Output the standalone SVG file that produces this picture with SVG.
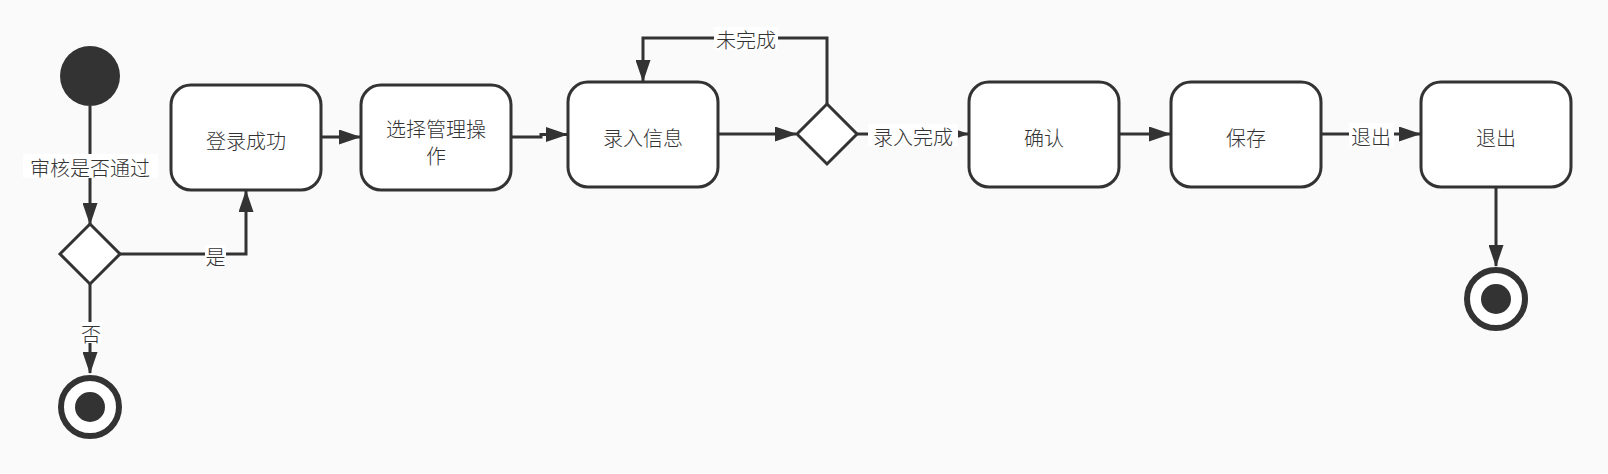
<svg xmlns="http://www.w3.org/2000/svg" width="1608" height="474" viewBox="0 0 1608 474">
<defs>
<style>
.box{fill:#fff;stroke:#333;stroke-width:3}
.dia{fill:#fff;stroke:#333;stroke-width:3}
.edge{fill:none;stroke:#333;stroke-width:3}
.t{font-family:"Noto Sans CJK SC","Noto Sans",sans-serif;font-size:20px;font-weight:300;fill:#333;text-anchor:middle;dominant-baseline:central}
.lbg{fill:#fff}
</style>
<marker id="arr" viewBox="0 0 22 15" refX="21" refY="7.5" markerWidth="22" markerHeight="15" markerUnits="userSpaceOnUse" orient="auto">
<path d="M0,0 L22,7.5 L0,15 Z" fill="#333"/>
</marker>
</defs>
<rect width="1608" height="474" fill="#fafafa"/>
<g id="connectors">
<path class="edge" d="M90,106 V224" marker-end="url(#arr)"/>
<path class="edge" d="M120,254 H246 V191" marker-end="url(#arr)"/>
<path class="edge" d="M90,284 V373" marker-end="url(#arr)"/>
<path class="edge" d="M321,137 H360" marker-end="url(#arr)"/>
<path class="edge" d="M511,137 H541 V134.5 H567" marker-end="url(#arr)"/>
<path class="edge" d="M718,134 H796" marker-end="url(#arr)"/>
<path class="edge" d="M827,104 V38 H643 V81" marker-end="url(#arr)"/>
<path class="edge" d="M857,134 H968" marker-end="url(#arr)"/>
<path class="edge" d="M1119,134 H1170" marker-end="url(#arr)"/>
<path class="edge" d="M1321,134 H1420" marker-end="url(#arr)"/>
<path class="edge" d="M1496,187 V266" marker-end="url(#arr)"/>
<rect class="lbg" x="23" y="154" width="135" height="24"/>
<text class="t" x="90" y="167">审核是否通过</text>
<rect class="lbg" x="205" y="245" width="21" height="21"/>
<text class="t" x="215.5" y="256">是</text>
<rect class="lbg" x="80" y="322" width="22" height="21"/>
<text class="t" x="91" y="333">否</text>
<rect class="lbg" x="714" y="27" width="64" height="23"/>
<text class="t" x="746" y="39">未完成</text>
<rect class="lbg" x="868" y="124" width="90" height="22"/>
<text class="t" x="913" y="136">录入完成</text>
<rect class="lbg" x="1349" y="123" width="45" height="24"/>
<text class="t" x="1371" y="136">退出</text>
</g>
<g id="start"><circle cx="90" cy="76" r="30" fill="#333"/></g>
<g id="decision1"><path class="dia" d="M90,224 L120,254 L90,284 L60,254 Z"/></g>
<g id="end1"><circle cx="90" cy="407" r="29" fill="#fff" stroke="#333" stroke-width="6"/><circle cx="90" cy="407" r="15" fill="#333"/></g>
<g id="login"><rect class="box" x="171" y="85" width="150" height="105" rx="20"/><text class="t" x="246" y="140">登录成功</text></g>
<g id="select"><rect class="box" x="361" y="85" width="150" height="105" rx="20"/><text class="t" x="436" y="128">选择管理操</text><text class="t" x="436" y="155">作</text></g>
<g id="input"><rect class="box" x="568" y="82" width="150" height="105" rx="20"/><text class="t" x="643" y="137">录入信息</text></g>
<g id="decision2"><path class="dia" d="M827,104 L857,134 L827,164 L797,134 Z"/></g>
<g id="confirm"><rect class="box" x="969" y="82" width="150" height="105" rx="20"/><text class="t" x="1044" y="137">确认</text></g>
<g id="save"><rect class="box" x="1171" y="82" width="150" height="105" rx="20"/><text class="t" x="1246" y="137">保存</text></g>
<g id="exit"><rect class="box" x="1421" y="82" width="150" height="105" rx="20"/><text class="t" x="1496" y="137">退出</text></g>
<g id="end2"><circle cx="1496" cy="299" r="29" fill="#fff" stroke="#333" stroke-width="6"/><circle cx="1496" cy="299" r="15" fill="#333"/></g>
</svg>
